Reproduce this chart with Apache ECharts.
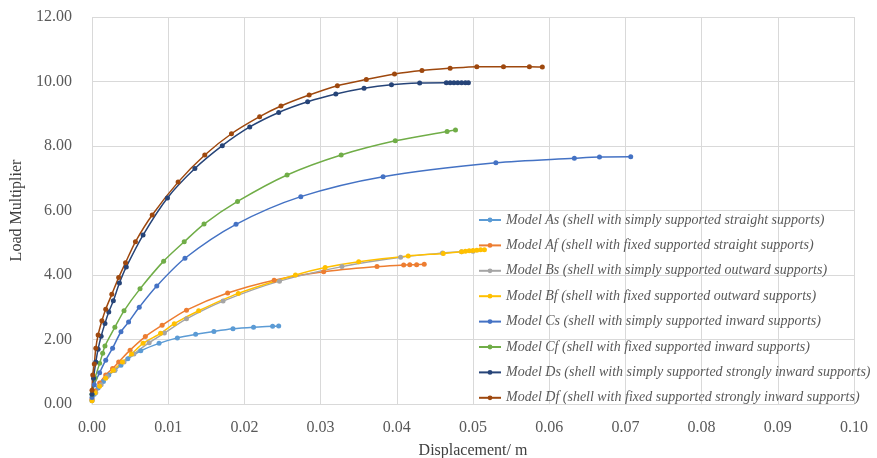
<!DOCTYPE html>
<html><head><meta charset="utf-8">
<script src="https://cdn.jsdelivr.net/npm/echarts@6/dist/echarts.min.js"></script>
<style>html,body{margin:0;padding:0;background:#fff}#c{width:877px;height:458px}</style>
</head><body><div id="c"></div>
<script>
const xTicks = [0, 0.1, 0.01];
const yTicks = [0, 12, 2];
const names = [
  'Model As (shell with simply supported straight supports)',
  'Model Af (shell with fixed supported straight supports)',
  'Model Bs (shell with simply supported outward supports)',
  'Model Bf (shell with fixed supported outward supports)',
  'Model Cs (shell with simply supported inward supports)',
  'Model Cf (shell with fixed supported inward supports)',
  'Model Ds (shell with simply supported strongly inward supports)',
  'Model Df (shell with fixed supported strongly inward supports)'
];
const modelAs = [[0,0.1],[0.0003,0.3],[0.0008,0.5],[0.0015,0.7],[0.0022,0.9],[0.003,1.05],[0.0038,1.2],[0.0047,1.4],[0.0064,1.65],[0.0088,1.88],[0.0112,2.05],[0.0136,2.16],[0.016,2.25],[0.0185,2.33],[0.0212,2.38],[0.0237,2.41],[0.0245,2.42]];
const modelAf = [[0,0.15],[0.0004,0.4],[0.001,0.65],[0.0018,0.9],[0.0027,1.1],[0.0035,1.3],[0.005,1.67],[0.007,2.09],[0.0092,2.44],[0.0124,2.91],[0.0178,3.44],[0.0239,3.84],[0.0304,4.1],[0.0374,4.26],[0.0409,4.31],[0.0417,4.32],[0.0426,4.32],[0.0436,4.33]];
const modelBs = [[0,0.12],[0.0005,0.35],[0.0012,0.6],[0.002,0.85],[0.003,1.05],[0.0042,1.3],[0.0055,1.55],[0.0075,1.9],[0.0095,2.2],[0.0124,2.64],[0.0172,3.19],[0.0246,3.81],[0.0328,4.26],[0.0405,4.55],[0.046,4.68],[0.0485,4.72],[0.05,4.74]];
const modelBf = [[0,0.1],[0.0004,0.35],[0.001,0.55],[0.0018,0.8],[0.0028,1.05],[0.004,1.3],[0.0052,1.55],[0.0067,1.88],[0.009,2.19],[0.0108,2.49],[0.014,2.89],[0.0192,3.43],[0.0267,4.0],[0.0306,4.23],[0.035,4.41],[0.0415,4.59],[0.0461,4.67],[0.0485,4.72],[0.049,4.74],[0.0495,4.75],[0.05,4.76],[0.0505,4.77],[0.051,4.78],[0.0515,4.78]];
const modelCs = [[0,0.2],[0.0003,0.6],[0.001,0.97],[0.0018,1.36],[0.0027,1.73],[0.0038,2.24],[0.0048,2.54],[0.0062,3.0],[0.0085,3.66],[0.0122,4.52],[0.0189,5.57],[0.0274,6.43],[0.0382,7.05],[0.053,7.48],[0.0633,7.62],[0.0666,7.66],[0.0707,7.67]];
const modelCf = [[0,0.3],[0.0004,0.8],[0.001,1.26],[0.0014,1.57],[0.0017,1.8],[0.003,2.38],[0.0042,2.89],[0.0063,3.57],[0.0094,4.43],[0.0121,5.03],[0.0147,5.58],[0.0191,6.28],[0.0256,7.1],[0.0327,7.72],[0.0398,8.16],[0.0466,8.45],[0.0477,8.5]];
const modelDs = [[0,0.3],[0.0002,0.8],[0.0005,1.3],[0.0008,1.7],[0.0012,2.1],[0.0017,2.5],[0.0022,2.85],[0.0028,3.2],[0.0036,3.75],[0.0045,4.25],[0.0067,5.24],[0.0099,6.39],[0.0135,7.3],[0.0171,8.01],[0.0207,8.59],[0.0245,9.04],[0.0283,9.37],[0.032,9.61],[0.0357,9.79],[0.0393,9.9],[0.043,9.95],[0.0465,9.96],[0.047,9.96],[0.0475,9.96],[0.048,9.96],[0.0485,9.96],[0.049,9.96],[0.0494,9.96]];
const modelDf = [[0,0.43],[0.0001,0.9],[0.0003,1.24],[0.0005,1.73],[0.0008,2.14],[0.0013,2.58],[0.0018,2.94],[0.0026,3.4],[0.0035,3.92],[0.0044,4.38],[0.0057,5.03],[0.0079,5.86],[0.0113,6.88],[0.0148,7.72],[0.0183,8.38],[0.022,8.91],[0.0248,9.24],[0.0285,9.58],[0.0322,9.87],[0.036,10.06],[0.0397,10.23],[0.0433,10.34],[0.047,10.41],[0.0505,10.46],[0.054,10.46],[0.0574,10.46],[0.0591,10.45]];
const allData = [modelAs, modelAf, modelBs, modelBf, modelCs, modelCf, modelDs, modelDf];
const colors = ['#5B9BD5','#ED7D31','#A5A5A5','#FFC000','#4472C4','#70AD47','#264478','#9E480E'];

const font = '"Liberation Serif", "Times New Roman", serif';
const chart = echarts.init(document.getElementById('c'), null, {renderer:'canvas'});
chart.setOption({
  animation: false,
  color: colors,
  grid: {left: 92, right: 23, top: 17, bottom: 54, containLabel: false, outerBoundsMode: 'none'},
  xAxis: {
    type: 'value', min: xTicks[0], max: xTicks[1], interval: xTicks[2],
    axisLine: {show: true, lineStyle: {color: '#D9D9D9'}},
    axisTick: {show: false},
    splitLine: {show: true, lineStyle: {color: '#D9D9D9'}},
    axisLabel: {formatter: v => v.toFixed(2), fontFamily: font, fontSize: 16, color: '#595959', margin: 16},
    name: 'Displacement/ m', nameLocation: 'middle', nameGap: 39,
    nameTextStyle: {fontFamily: font, fontSize: 16, color: '#404040', verticalAlign: 'top'}
  },
  yAxis: {
    type: 'value', min: yTicks[0], max: yTicks[1], interval: yTicks[2],
    axisLine: {show: false}, axisTick: {show: false},
    splitLine: {show: true, lineStyle: {color: '#D9D9D9'}},
    axisLabel: {formatter: v => v.toFixed(2), fontFamily: font, fontSize: 16, color: '#595959', margin: 20},
    name: 'Load Multiplier', nameLocation: 'middle', nameGap: 62,
    nameTextStyle: {fontFamily: font, fontSize: 16, color: '#404040'}
  },
  legend: {
    orient: 'vertical', left: 473, top: 208, itemGap: 11.4, itemWidth: 22, itemHeight: 6,
    textStyle: {fontFamily: font, fontStyle: 'italic', fontSize: 14, color: '#595959', lineHeight: 14}
  },
  series: allData.map((d, i) => ({
    name: names[i], type: 'line', data: d, smooth: 0.3,
    symbol: 'circle', symbolSize: 5,
    lineStyle: {width: 1.5, color: colors[i]},
    itemStyle: {color: colors[i]}
  }))
});
</script></body></html>
